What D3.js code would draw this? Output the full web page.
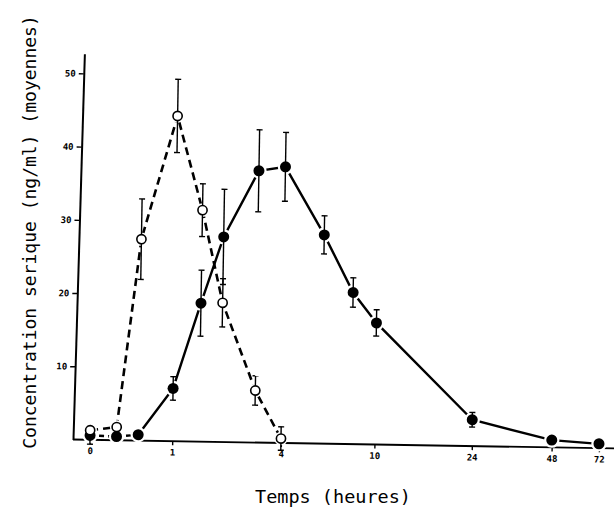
<!DOCTYPE html>
<html><head><meta charset="utf-8">
<script src="https://cdn.jsdelivr.net/npm/d3@7"></script>
<style>body{margin:0;background:#fff}svg{display:block}</style>
</head><body>
<svg id="chart" width="614" height="515"></svg>
<script>
// ---- data ----
const tickTimes = [0, 1, 4, 10, 24, 48, 72];
const yTicks = [10, 20, 30, 40, 50];
const filledTimes  = [0, 0.25, 0.5, 1, 1.5, 2, 3, 4, 6, 8, 10, 24, 48, 72];
const filledValues = [0.6, 0.5, 0.8, 7.2, 18.9, 28, 37.1, 37.7, 28.5, 20.7, 16.6, 3.6, 1.0, 0.6];
const filledErrors = [1.2, 0, 0, 1.6, 4.5, 6.5, 5.6, 4.7, 2.6, 2.0, 1.8, 1.0, 0, 0];
const openTimes  = [0, 0.25, 0.5, 1, 1.5, 2, 3, 4];
const openValues = [1.3, 1.8, 27.5, 44.4, 31.6, 19, 7.1, 0.6];
const openErrors = [0, 0, 5.5, 5, 3.6, 3.3, 2, 1.6];
const xTitle = "Temps (heures)";
const yTitle = "Concentration serique (ng/ml) (moyennes)";

const filled = filledTimes.map((t, i) => ({t, v: filledValues[i], e: filledErrors[i]}));
const open = openTimes.map((t, i) => ({t, v: openValues[i], e: openErrors[i]}));

const svg = d3.select("#chart");
const mono = "'DejaVu Sans Mono', 'Liberation Mono', monospace";

const x = d3.scaleSymlog().constant(1).domain([0, 72]).range([17, 526]);
const y = d3.scaleLinear().domain([0, 52.7]).range([0, -386]);

// plot frame (slightly tilted like the scanned original)
const g = svg.append("g").attr("transform", "translate(73,439.5) rotate(0.95)");

// x axis line
g.append("line").attr("x1", 0).attr("x2", 560).attr("y1", 0).attr("y2", 0)
  .attr("stroke", "#000").attr("stroke-width", 1.8);

const xAxis = g.append("g")
  .call(d3.axisBottom(x).tickValues(tickTimes).tickSize(4).tickPadding(4).tickFormat(d3.format("d")));
xAxis.select(".domain").remove();
xAxis.selectAll("line").attr("stroke-width", 1.4);
xAxis.selectAll("text").attr("font-family", mono).attr("font-size", 9).attr("font-weight", "bold");

const yAxis = g.append("g").attr("transform", "skewX(-0.74)")
  .call(d3.axisLeft(y).tickValues(yTicks).tickSize(5).tickSizeOuter(0).tickPadding(3));
yAxis.select(".domain").attr("stroke-width", 2);
yAxis.selectAll("line").attr("stroke-width", 1.4);
yAxis.selectAll("text").attr("font-family", mono).attr("font-size", 9).attr("font-weight", "bold");

const line = d3.line().x(d => x(d.t)).y(d => y(d.v));

// open series: dashed
g.append("path").datum(open).attr("d", line)
  .attr("fill", "none").attr("stroke", "#000").attr("stroke-width", 2.6)
  .attr("stroke-dasharray", "8,5");
// filled series: dashed at the start, then solid
g.append("path").datum(filled.slice(0, 3)).attr("d", line)
  .attr("fill", "none").attr("stroke", "#000").attr("stroke-width", 2.4)
  .attr("stroke-dasharray", "5,4");
g.append("path").datum(filled.slice(2)).attr("d", line)
  .attr("fill", "none").attr("stroke", "#000").attr("stroke-width", 2.4);

// halos (gaps between lines and markers)
const all = [...filled.map(d => ({...d, r: 5.5})), ...open.map(d => ({...d, r: 4.6}))];
g.append("g").selectAll("circle").data(all).join("circle")
  .attr("cx", d => x(d.t)).attr("cy", d => y(d.v)).attr("r", d => d.r + 2.2)
  .attr("fill", "#fff");

// error bars
const eb = g.append("g").attr("stroke", "#000").attr("stroke-width", 1.4);
const withErr = all.filter(d => d.e > 0);
eb.selectAll("line.v").data(withErr).join("line").attr("class", "v")
  .attr("x1", d => x(d.t)).attr("x2", d => x(d.t))
  .attr("y1", d => y(d.v - d.e)).attr("y2", d => y(d.v + d.e));
eb.selectAll("line.top").data(withErr).join("line").attr("class", "top")
  .attr("x1", d => x(d.t) - 3).attr("x2", d => x(d.t) + 3)
  .attr("y1", d => y(d.v + d.e)).attr("y2", d => y(d.v + d.e));
eb.selectAll("line.bot").data(withErr).join("line").attr("class", "bot")
  .attr("x1", d => x(d.t) - 3).attr("x2", d => x(d.t) + 3)
  .attr("y1", d => y(d.v - d.e)).attr("y2", d => y(d.v - d.e));

// markers
g.append("g").selectAll("circle").data(filled).join("circle")
  .attr("cx", d => x(d.t)).attr("cy", d => y(d.v)).attr("r", 5.5)
  .attr("fill", "#000");
g.append("g").selectAll("circle").data(open).join("circle")
  .attr("cx", d => x(d.t)).attr("cy", d => y(d.v)).attr("r", 4.6)
  .attr("fill", "#fff").attr("stroke", "#000").attr("stroke-width", 1.6);

// titles
svg.append("text").attr("x", 333).attr("y", 503).attr("text-anchor", "middle")
  .attr("font-family", mono).attr("font-size", 18.5).attr("fill", "#000").text(xTitle);
svg.append("text").attr("transform", "translate(36,232) rotate(-90)").attr("text-anchor", "middle")
  .attr("font-family", mono).attr("font-size", 18).attr("fill", "#000").text(yTitle);
</script>
</body></html>
